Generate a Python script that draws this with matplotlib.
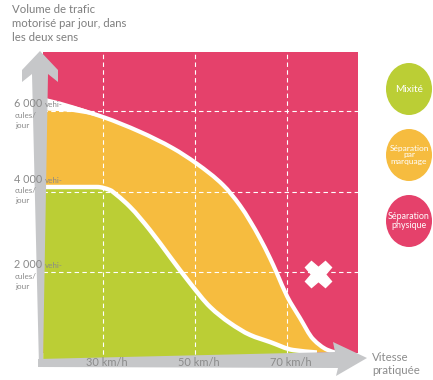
import matplotlib
matplotlib.use('Agg')
import matplotlib.pyplot as plt
import matplotlib.transforms as mtransforms
from matplotlib.patches import Polygon, Ellipse, PathPatch
from matplotlib.path import Path

# ---------------- data ----------------
speed_ticks = [30, 50, 70]
speed_labels = ['30 km/h', '50 km/h', '70 km/h']
volume_ticks = [6000, 4000, 2000]
volume_labels = ['6 000', '4 000', '2 000']

# upper boundary (yellow / pink), vehicles per day vs speed (km/h)
upper_speed = [17.0, 23.5, 30.0, 38.0, 45.2, 50.4, 56.1, 59.8, 62.0, 64.1,
               66.3, 67.8, 70.0, 72.8, 75.7, 78.7, 80.5]
upper_volume = [6230, 6075, 5851, 5485, 5075, 4690, 4161, 3650, 3260, 2840,
                2345, 1970, 1400, 860, 330, 70, 0]

# lower boundary (green / yellow)
lower_speed = [17.0, 28.7, 31.5, 33.0, 35.9, 40.2, 44.6, 48.9, 53.3, 57.6,
               62.0, 66.3, 71.3, 76.5]
lower_volume = [4112, 4112, 4037, 3913, 3615, 3043, 2373, 1727, 1130, 733,
                435, 261, 62, 0]

# white wedge at start of upper boundary
wedge_speed = [17.0, 20.5, 23.5, 27.0, 30.0]
wedge_low = [6025, 6010, 5985, 5920, 5830]
wedge_high = [6348, 6250, 6150, 6020, 5880]

cross_speed = [76.7]
cross_volume = [1950]

legend_labels = ['Mixité', 'Séparation\npar\nmarquage', 'Séparation\nphysique']
legend_sizes = [7.2, 6.0, 6.4]
legend_spacing = [1.0, 0.95, 1.1]

title_lines = ['Volume de trafic', 'motorisé par jour, dans', 'les deux sens']
x_title_lines = ['Vitesse', 'pratiquée']

# ---------------- style ----------------
GREEN = '#BBCE35'
YELLOW = '#F6BC3F'
PINK = '#E5416B'
GRAY = '#C6C7C9'
TXT = '#8A8A8A'
plt.rcParams['font.family'] = ['Lato', 'DejaVu Sans']


def smooth_path_vertices(xs, ys):
    """Monotone cubic Hermite (PCHIP tangents) expressed as Bezier segments."""
    n = len(xs)
    h = [xs[i + 1] - xs[i] for i in range(n - 1)]
    d = [(ys[i + 1] - ys[i]) / h[i] for i in range(n - 1)]
    m = [0.0] * n
    m[0], m[-1] = d[0], d[-1]
    for i in range(1, n - 1):
        if d[i - 1] * d[i] <= 0:
            m[i] = 0.0
        else:
            w1 = 2 * h[i] + h[i - 1]
            w2 = h[i] + 2 * h[i - 1]
            m[i] = (w1 + w2) / (w1 / d[i - 1] + w2 / d[i])
    verts = [(xs[0], ys[0])]
    codes = [Path.MOVETO]
    for i in range(n - 1):
        verts += [(xs[i] + h[i] / 3, ys[i] + m[i] * h[i] / 3),
                  (xs[i + 1] - h[i] / 3, ys[i + 1] - m[i + 1] * h[i] / 3),
                  (xs[i + 1], ys[i + 1])]
        codes += [Path.CURVE4] * 3
    return verts, codes


W, H = 433, 380
fig = plt.figure(figsize=(W / 100, H / 100), dpi=100)

# main data axes, positioned in pixels
L, R, T, B = 43, 358, 52, 362
ax = fig.add_axes([L / W, (H - B) / H, (R - L) / W, (B - T) / H])
XMIN, XMAX = 16.96, 85.43
YMIN, YMAX = -236, 7466
ax.set_xlim(XMIN, XMAX)
ax.set_ylim(YMIN, YMAX)
ax.axis('off')

ax.fill_between([XMIN, XMAX], 0, YMAX, color=PINK, lw=0, zorder=1)

uv, uc = smooth_path_vertices(upper_speed, upper_volume)
lv, lc = smooth_path_vertices(lower_speed, lower_volume)

yellow_path = Path(uv + [(upper_speed[-1], 0), (upper_speed[0], 0), uv[0]],
                   uc + [Path.LINETO, Path.LINETO, Path.CLOSEPOLY])
ax.add_patch(PathPatch(yellow_path, fc=YELLOW, ec='none', zorder=2))
green_path = Path(lv + [(lower_speed[-1], YMIN), (lower_speed[0], YMIN), lv[0]],
                  lc + [Path.LINETO, Path.LINETO, Path.CLOSEPOLY])
ax.add_patch(PathPatch(green_path, fc=GREEN, ec='none', zorder=3))

ax.hlines(volume_ticks, XMIN, XMAX, colors='white', lw=0.8,
          linestyles=(0, (4, 3)), zorder=4)
ax.vlines(speed_ticks, YMIN, YMAX, colors='white', lw=0.8,
          linestyles=(0, (4, 3)), zorder=4)

ax.fill_between(wedge_speed, wedge_low, wedge_high, color='white', lw=0, zorder=5)
ax.add_patch(PathPatch(Path(uv, uc), fc='none', ec='white', lw=3.0,
                       capstyle='butt', zorder=5))
ax.add_patch(PathPatch(Path(lv, lc), fc='none', ec='white', lw=3.2,
                       capstyle='butt', zorder=5))
ax.plot(cross_speed, cross_volume, marker='X', ms=19, color='white',
        mec='white', ls='none', zorder=6)

# overlay in pixel coordinates for decorations
ov = fig.add_axes([0, 0, 1, 1], zorder=5)
ov.set_xlim(0, W)
ov.set_ylim(H, 0)
ov.axis('off')
ov.patch.set_alpha(0)

# y axis arrow
ov.add_patch(Polygon([(40, 51), (58, 70), (58, 82), (48, 74), (43, 362),
                      (39, 366), (32, 74), (22, 82), (22, 70)],
                     closed=True, fc=GRAY, ec='none', zorder=1))
# x axis arrow
ov.add_patch(Polygon([(38, 359), (335, 352), (333, 342), (367, 358),
                      (336, 376), (338, 368), (38, 367)],
                     closed=True, fc=GRAY, ec='none', zorder=1))

# titles
for i, t in enumerate(title_lines):
    ov.text(12, 13 + 14.2 * i, t, fontsize=8.2, color='#7F7F7F',
            ha='left', va='baseline')
ov.text(372, 361, x_title_lines[0], fontsize=8.2, color='#8C8C8C',
        ha='left', va='baseline')
ov.text(372, 374, x_title_lines[1], fontsize=8.2, color='#8C8C8C',
        ha='left', va='baseline')

# tick labels
tx = mtransforms.blended_transform_factory(ax.transData, ov.transData)
for s, lab in zip(speed_ticks, speed_labels):
    ov.text(s + 0.8, 366.5, lab, transform=tx, fontsize=7.9, color='#8A8A8A',
            ha='center', va='baseline', zorder=3)

ty = mtransforms.blended_transform_factory(ov.transData, ax.transData)
yoff = [-4, -9, -4]
for v, lab, off in zip(volume_ticks, volume_labels, yoff):
    off_t = mtransforms.offset_copy(ty, fig=fig, x=0, y=-off, units='dots')
    ov.text(14, v, lab, transform=off_t, fontsize=7.8, color=TXT,
            ha='left', va='baseline', zorder=3)
    ov.text(44.5, v, 'vehi-', transform=off_t, fontsize=5.8, color=TXT,
            ha='left', va='baseline', zorder=3)
    o2 = mtransforms.offset_copy(ty, fig=fig, x=0, y=-off - 10.5, units='dots')
    ov.text(15, v, 'cules/', transform=o2, fontsize=5.9, color=TXT,
            ha='left', va='baseline', zorder=3)
    o3 = mtransforms.offset_copy(ty, fig=fig, x=0, y=-off - 20.5, units='dots')
    ov.text(15, v, 'jour', transform=o3, fontsize=5.9, color=TXT,
            ha='left', va='baseline', zorder=3)

# legend circles
for (cy, col, lab, fs, ls) in zip([89, 155, 221], [GREEN, YELLOW, PINK],
                                  legend_labels, legend_sizes, legend_spacing):
    ov.add_patch(Ellipse((409, cy), 46, 52, fc=col, ec='none', zorder=1))
    ov.text(409, cy, lab, fontsize=fs, color='white', ha='center',
            va='center', linespacing=ls, zorder=3)

fig.savefig('out.png', dpi=100)
